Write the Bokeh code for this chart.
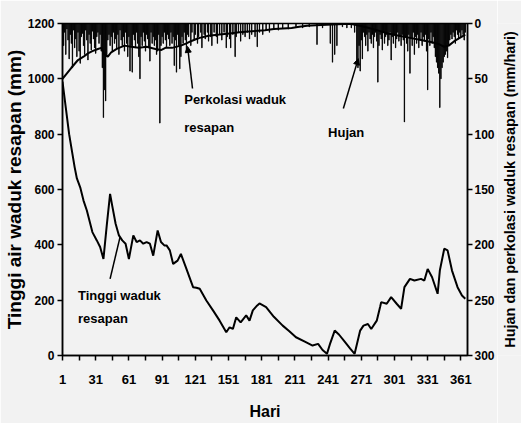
import math
from bokeh.plotting import figure
from bokeh.layouts import row
from bokeh.models import Range1d, LinearAxis, FixedTicker, Label, Arrow, NormalHead
from bokeh.embed import file_html
from bokeh.resources import INLINE

# ---------------- data ----------------
rain_day = [1, 2, 3, 4, 5, 6, 7, 8, 9, 10, 11, 12, 13, 14, 15, 16, 17, 18, 19, 20,
            21, 22, 23, 24, 25, 26, 27, 28, 29, 30, 31, 32, 33, 34, 35, 36, 37, 38, 39, 40,
            41, 42, 43, 44, 45, 46, 47, 48, 49, 50, 51, 52, 53, 54, 55, 56, 57, 58, 59, 60,
            61, 62, 63, 64, 65, 66, 67, 68, 69, 70, 71, 72, 73, 74, 75, 76, 77, 78, 79, 80,
            81, 82, 83, 84, 85, 86, 87, 88, 89, 90, 91, 92, 93, 94, 95, 96, 97, 98, 99, 100,
            101, 102, 103, 104, 105, 106, 107, 108, 109, 110, 111, 112, 113, 114, 115, 117, 118, 120, 121, 123,
            124, 126, 127, 129, 130, 132, 133, 135, 136, 138, 140, 141, 143, 145, 147, 149, 150, 152, 153, 155,
            157, 158, 160, 162, 164, 166, 168, 170, 172, 175, 177, 179, 182, 185, 188, 192, 196, 200, 205, 212,
            218, 224, 231, 236, 243, 245, 247, 249, 254, 258, 262, 265, 267, 268, 269, 270, 271, 272, 273, 274,
            275, 276, 277, 278, 279, 280, 281, 282, 283, 284, 285, 286, 287, 288, 289, 290, 291, 292, 293, 294,
            295, 296, 297, 298, 299, 300, 301, 302, 303, 304, 305, 306, 307, 308, 309, 310, 311, 312, 313, 314,
            315, 316, 317, 318, 319, 320, 321, 322, 323, 324, 325, 326, 327, 328, 329, 330, 331, 332, 333, 334,
            335, 336, 337, 338, 339, 340, 341, 342, 343, 344, 345, 346, 347, 348, 349, 350, 351, 352, 353, 354,
            355, 356, 357, 358, 359, 360, 361, 362, 363, 364, 365]
rain_mm = [12, 20, 8, 28, 5, 15, 32, 10, 18, 40, 6, 22, 14, 30, 8, 25, 36, 12, 9, 20,
           28, 6, 15, 33, 10, 18, 24, 7, 14, 22, 27, 12, 8, 18, 10, 25, 40, 85, 60, 70,
           30, 15, 10, 20, 12, 25, 8, 18, 14, 22, 10, 28, 6, 15, 20, 12, 25, 8, 18, 30,
           12, 43, 20, 44, 10, 15, 22, 8, 18, 30, 50, 12, 20, 8, 16, 25, 10, 14, 22, 34,
           8, 18, 12, 20, 15, 28, 25, 10, 90, 20, 12, 18, 8, 15, 22, 10, 14, 20, 8, 18,
           12, 38, 15, 44, 10, 20, 41, 30, 12, 18, 8, 15, 25, 10, 12, 20, 8, 15, 10, 18,
           12, 8, 22, 10, 14, 8, 16, 12, 20, 8, 12, 18, 10, 15, 8, 22, 12, 14, 22, 10,
           30, 12, 8, 16, 10, 12, 8, 14, 10, 12, 21, 8, 10, 6, 8, 5, 6, 4, 5, 3,
           4, 3, 19, 4, 18, 35, 28, 20, 3, 4, 4, 8, 36, 40, 20, 43, 15, 32, 8, 12,
           20, 10, 25, 8, 14, 18, 10, 22, 12, 8, 16, 53, 20, 10, 14, 24, 8, 18, 12, 10,
           20, 15, 8, 33, 12, 18, 10, 22, 14, 8, 16, 12, 20, 10, 15, 89, 12, 18, 25, 10,
           45, 14, 20, 8, 28, 12, 18, 10, 22, 15, 8, 20, 12, 16, 10, 25, 60, 14, 20, 8,
           18, 12, 22, 30, 35, 40, 45, 76, 50, 40, 35, 30, 28, 25, 31, 20, 15, 10, 14, 8,
           12, 18, 6, 10, 14, 8, 12, 6, 10, 15, 8]

perc_day = [1, 5, 9, 15, 20, 24, 28, 33, 36, 39, 42, 45, 50, 57, 63, 70, 77, 85, 90, 94,
            100, 108, 113, 117, 122, 125, 133, 143, 152, 161, 172, 184, 192, 200, 208, 215, 222, 230, 245, 255,
            262, 270, 278, 285, 295, 305, 315, 325, 335, 342, 346, 350, 355, 360, 365]
perc_mm = [50, 45, 40, 33, 30, 27, 25, 23, 22, 28, 30, 26, 23, 20, 21, 22, 21, 23, 24, 22,
           22, 20, 18, 16, 14, 13, 11, 10, 9, 8, 7, 6, 5, 4.5, 4, 3, 2, 1.5, 1, 0.5,
           0.5, 2, 4, 6, 9, 11, 13, 15, 17, 19, 21, 20, 16, 13, 10]

level_day = [1, 4, 7, 10, 12, 14, 17, 20, 23, 28, 32, 35, 38, 41, 44, 46, 49, 52, 55, 58,
             61, 65, 68, 71, 74, 77, 80, 83, 87, 90, 93, 95, 98, 101, 105, 108, 113, 119, 122, 125,
             131, 137, 143, 149, 152, 155, 158, 162, 167, 170, 173, 177, 179, 185, 192, 200, 206, 212, 220, 227,
             232, 236, 240, 243, 247, 251, 256, 261, 265, 270, 273, 277, 280, 285, 288, 289, 294, 298, 303, 307,
             310, 315, 319, 325, 328, 331, 335, 340, 342, 346, 349, 353, 358, 362, 365]
level_mm = [990, 895, 800, 728, 680, 640, 608, 560, 524, 446, 416, 392, 349, 470, 584, 540, 476, 434, 416, 404,
            349, 434, 410, 416, 404, 410, 404, 361, 452, 410, 398, 398, 380, 331, 343, 367, 313, 247, 245, 241,
            199, 163, 126, 84, 102, 96, 138, 120, 145, 126, 163, 181, 188, 175, 140, 108, 88, 66, 50, 36,
            42, 20, 6, 45, 90, 75, 50, 25, 6, 90, 108, 114, 96, 126, 175, 193, 187, 211, 187, 169,
            247, 277, 271, 277, 271, 313, 283, 223, 307, 386, 380, 307, 247, 217, 205]

x_ticks = [1, 31, 61, 91, 121, 151, 181, 211, 241, 271, 301, 331, 361]
x_minor = [16, 46, 76, 106, 136, 166, 196, 226, 256, 286, 316, 346]
left_ticks = [0, 200, 400, 600, 800, 1000, 1200]
right_ticks = [0, 50, 100, 150, 200, 250, 300]

BG = "#f2f2f2"
FONT = "Liberation Sans"

p = figure(width=497, height=423, output_backend="svg", toolbar_location=None,
           x_range=Range1d(1, 367), y_range=Range1d(0, 1200),
           min_border_left=62, min_border_right=27, min_border_top=23, min_border_bottom=68,
           background_fill_color=BG, border_fill_color=BG,
           outline_line_color="black", outline_line_width=1.5)
p.extra_y_ranges = {"rain": Range1d(300, 0)}
p.grid.visible = False

def style_axis(ax, size, standoff):
    ax.axis_line_width = 1.5
    ax.axis_line_color = "black"
    ax.major_tick_line_width = 1.5
    ax.minor_tick_line_width = 1.5
    ax.major_tick_in = 0
    ax.major_tick_out = 5
    ax.minor_tick_in = 0
    ax.minor_tick_out = 0
    ax.major_label_text_font = FONT
    ax.major_label_text_font_style = "bold"
    ax.major_label_text_font_size = size
    ax.major_label_text_color = "black"
    ax.major_label_standoff = standoff
    ax.axis_label_text_font = FONT
    ax.axis_label_text_font_style = "bold"
    ax.axis_label_text_color = "black"

xa = p.xaxis[0]
xa.ticker = FixedTicker(ticks=x_ticks, minor_ticks=x_minor)
style_axis(xa, "13px", 14)
xa.minor_tick_out = 5
xa.axis_label = "Hari"
xa.axis_label_text_font_size = "16px"
xa.axis_label_standoff = 16

ya = p.yaxis[0]
ya.ticker = FixedTicker(ticks=left_ticks)
style_axis(ya, "12px", 3)
ya.axis_label = "Tinggi air waduk resapan (mm)"
ya.axis_label_text_font_size = "19px"
ya.axis_label_standoff = 0

ra = LinearAxis(y_range_name="rain", ticker=FixedTicker(ticks=right_ticks))
style_axis(ra, "12px", 2)
p.add_layout(ra, "right")

# rain bars hanging from the top (right axis reversed)
p.vbar(x=rain_day, top=0, bottom=rain_mm, width=0.3, y_range_name="rain",
       fill_color="black", line_color="black", line_width=0.9)
# percolation
p.line(perc_day, perc_mm, y_range_name="rain", line_color="black", line_width=2)
# water level
p.line(level_day, level_mm, line_color="black", line_width=2)

def lab(x, y, text, size="13px"):
    p.add_layout(Label(x=x, y=y, text=text, text_font=FONT, text_font_style="bold",
                       text_font_size=size, text_color="black",
                       text_baseline="middle", text_align="left"))

lab(111, 925, "Perkolasi waduk")
lab(111, 824, "resapan")
lab(241, 806, "Hujan")
lab(15, 217, "Tinggi waduk")
lab(15, 134, "resapan")

p.add_layout(Arrow(end=NormalHead(size=6, fill_color="black", line_color="black"),
                   x_start=118.5, y_start=965, x_end=114, y_end=1117, line_width=1.5))
p.add_layout(Arrow(end=NormalHead(size=6, fill_color="black", line_color="black"),
                   x_start=254.8, y_start=893, x_end=268.3, y_end=1073, line_width=1.5))
p.add_layout(Arrow(end=None, x_start=44, y_start=277, x_end=53, y_end=428, line_width=1.5))

# right-hand axis title, drawn in a narrow strip beside the plot
# (the strip's frame is aligned with the main frame, 332 px tall)
side = figure(width=24, height=423, output_backend="svg", toolbar_location=None,
              x_range=Range1d(0, 24), y_range=Range1d(0, 332),
              min_border=0, x_axis_location=None, y_axis_location=None,
              background_fill_color=BG, border_fill_color=BG, outline_line_color=None)
side.grid.visible = False
side.add_layout(Label(x=12, y=166, text="Hujan dan perkolasi waduk resapan (mm/hari)",
                      angle=math.pi / 2,
                      text_font=FONT, text_font_style="bold", text_font_size="14.5px",
                      text_align="center", text_baseline="middle", text_color="black"))

layout = row(p, side, spacing=0)
open("out.html", "w").write(file_html(layout, INLINE))
